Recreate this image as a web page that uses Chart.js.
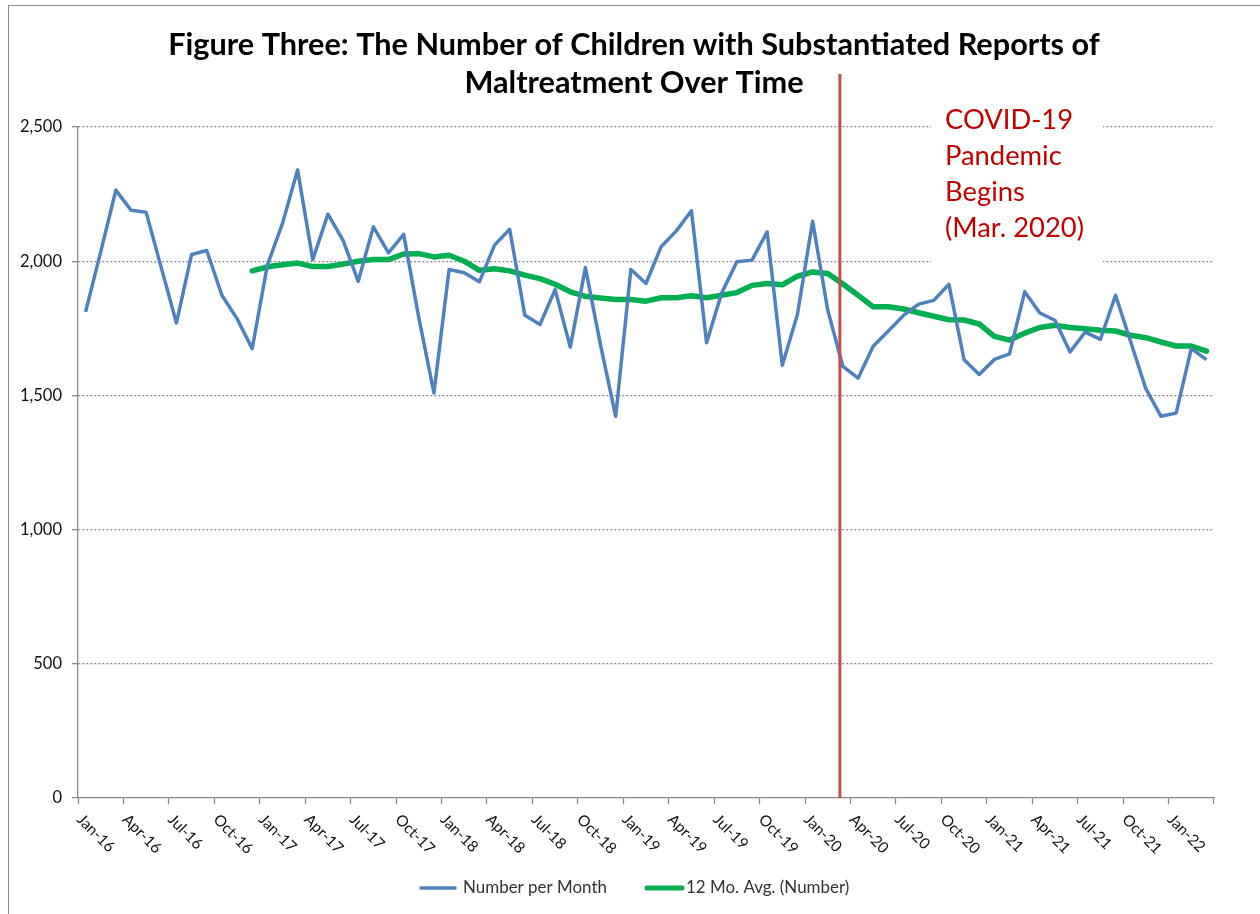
<!DOCTYPE html>
<html>
<head>
<meta charset="utf-8">
<script src="https://cdn.jsdelivr.net/npm/chart.js@4.4.1/dist/chart.umd.min.js"></script>
<style>
html, body { margin: 0; padding: 0; background: #fff; overflow: hidden; }
#cornice { position: absolute; left: 8px; top: 5px; width: 1400px; height: 1000px; border: 1.5px solid #8c8c8c; box-sizing: border-box; }
#grafico { position: absolute; left: 0; top: 0; }
</style>
</head>
<body>
<div id="cornice"></div>
<canvas id="grafico" width="1260" height="914"></canvas>
<script>
// data
const mesi = ['Jan', 'Feb', 'Mar', 'Apr', 'May', 'Jun', 'Jul', 'Aug', 'Sep', 'Oct', 'Nov', 'Dec'];
const anni = ['16', '17', '18', '19', '20', '21', '22'];
const ultimoMese = 'Mar-22';

const perMese = [
  1811, 2035, 2265, 2190, 2182, 1975, 1770, 2025, 2040, 1873, 1786, 1674,
  1985, 2141, 2340, 2006, 2175, 2078, 1925, 2128, 2031, 2100, 1790, 1509,
  1969, 1957, 1923, 2060, 2119, 1799, 1764, 1894, 1680, 1976, 1687, 1422,
  1969, 1917, 2054, 2113, 2188, 1696, 1882, 1998, 2004, 2109, 1612, 1802,
  2149, 1817, 1608, 1564, 1683, 1740, 1798, 1840, 1854, 1914, 1633, 1578,
  1634, 1655, 1886, 1807, 1780, 1662, 1736, 1709, 1873, 1700, 1525, 1422,
  1434, 1674, 1633
];
const media12 = [
  null, null, null, null, null, null, null, null, null, null, null, 1964,
  1979, 1987, 1993, 1980, 1980, 1989, 2000, 2006, 2006, 2027, 2028, 2016,
  2022, 2000, 1966, 1972, 1964, 1948, 1935, 1914, 1886, 1869, 1863, 1857,
  1857, 1851, 1864, 1864, 1871, 1864, 1873, 1883, 1910, 1917, 1912, 1944,
  1960, 1954, 1915, 1873, 1830, 1830, 1822, 1808, 1795, 1782, 1781, 1766,
  1720, 1706, 1732, 1753, 1761, 1753, 1748, 1743, 1740, 1724, 1715, 1699,
  1684, 1684, 1665
];
const yTicks = [0, 500, 1000, 1500, 2000, 2500];

const titolo = ['Figure Three: The Number of Children with Substantiated Reports of', 'Maltreatment Over Time'];
const nota = ['COVID-19', 'Pandemic', 'Begins', '(Mar. 2020)'];
const nomiSerie = ['Number per Month', '12 Mo. Avg. (Number)'];
const mesePandemia = 'Mar-20';

const etichette = [];
for (const a of anni) {
  for (const m of mesi) {
    etichette.push(m + '-' + a);
    if (m + '-' + a === ultimoMese) break;
  }
}

const BLU = '#4F81BD';
const VERDE = '#00B050';
const ROSSO = '#C0504D';
const FONT = 'Lato';

function misura(ctx, testo, larghezza, peso) {
  ctx.font = peso + ' 100px ' + FONT;
  return 100 * larghezza / ctx.measureText(testo).width;
}

// drawing of title, note, x labels, legend
const decorazioni = {
  id: 'decorazioni',
  beforeDatasetsDraw(chart) {
    const ctx = chart.ctx;
    ctx.save();
    ctx.fillStyle = '#fff';
    ctx.fillRect(931, 95, 172, 175);
    ctx.restore();
  },
  afterDraw(chart) {
    const ctx = chart.ctx;
    const x = chart.scales.x;
    ctx.save();

    // title
    let s = misura(ctx, titolo[0], 932, 'bold');
    ctx.font = 'bold ' + s + 'px ' + FONT;
    ctx.fillStyle = '#000';
    ctx.textAlign = 'center';
    ctx.textBaseline = 'middle';
    ctx.fillText(titolo[0], 634, 45);
    ctx.fillText(titolo[1], 634, 83);

    // pandemic line
    const xp = x.getPixelForValue(etichette.indexOf(mesePandemia) - 0.2);
    ctx.strokeStyle = ROSSO;
    ctx.lineWidth = 3;
    ctx.beginPath();
    ctx.moveTo(xp, 74);
    ctx.lineTo(xp, chart.chartArea.bottom);
    ctx.stroke();

    s = misura(ctx, nota[3], 139, 'normal');
    ctx.font = s + 'px ' + FONT;
    ctx.fillStyle = '#C00000';
    ctx.textAlign = 'left';
    nota.forEach((t, i) => ctx.fillText(t, 945, 120 + i * 36));

    // x labels, rotated
    s = misura(ctx, 'Jan-16', 46, 'normal');
    ctx.font = s + 'px ' + FONT;
    ctx.fillStyle = '#111';
    for (let i = 0; i < etichette.length; i += 3) {
      const px = x.getPixelForValue(i);
      ctx.save();
      ctx.translate(px - 6, 817);
      ctx.rotate(Math.PI / 4);
      ctx.fillText(etichette[i], 0, 0);
      ctx.restore();
    }

    // legend
    s = misura(ctx, nomiSerie[0], 144, 'normal');
    ctx.font = s + 'px ' + FONT;
    ctx.fillStyle = '#333';
    ctx.lineCap = 'round';
    ctx.strokeStyle = BLU;
    ctx.lineWidth = 3.5;
    ctx.beginPath(); ctx.moveTo(421, 888); ctx.lineTo(455, 888); ctx.stroke();
    ctx.fillText(nomiSerie[0], 463, 888);
    ctx.strokeStyle = VERDE;
    ctx.lineWidth = 5;
    ctx.beginPath(); ctx.moveTo(647, 888); ctx.lineTo(682, 888); ctx.stroke();
    ctx.fillText(nomiSerie[1], 686, 888);

    ctx.restore();
  }
};

new Chart(document.getElementById('grafico'), {
  type: 'line',
  data: {
    labels: etichette,
    datasets: [{
      label: nomiSerie[0],
      data: perMese,
      borderColor: BLU,
      borderWidth: 3.5,
      pointRadius: 0,
      tension: 0,
      borderJoinStyle: 'round'
    }, {
      label: nomiSerie[1],
      data: media12,
      borderColor: VERDE,
      borderWidth: 5.5,
      pointRadius: 0,
      tension: 0,
      borderJoinStyle: 'round',
      borderCapStyle: 'round'
    }]
  },
  options: {
    responsive: false,
    animation: false,
    layout: { padding: { top: 127, right: 46, left: 0, bottom: 0 } },
    plugins: { legend: { display: false }, title: { display: false }, tooltip: { enabled: false } },
    scales: {
      x: {
        type: 'category',
        offset: true,
        afterFit: s => { s.height = 116; },
        grid: {
          offset: true,
          drawOnChartArea: false,
          tickLength: 6,
          tickColor: c => (c.index === undefined || c.index % 3 === 0) ? '#888' : 'transparent',
          tickWidth: 1.3
        },
        border: { color: '#888', width: 1.3 },
        ticks: { display: false, autoSkip: false }
      },
      y: {
        min: yTicks[0],
        max: yTicks[yTicks.length - 1],
        afterFit: s => { s.width = 78; },
        afterBuildTicks: s => { s.ticks = yTicks.map(v => ({ value: v })); },
        grid: {
          color: c => c.tick && c.tick.value > 0 ? '#8a8a8a' : 'transparent',
          lineWidth: 1.3,
          tickLength: 6,
          tickColor: '#888'
        },
        border: { color: '#888', width: 1.3, dash: [2, 2] },
        ticks: {
          padding: 10,
          color: '#111',
          font: { family: FONT, size: 16.5 },
          callback: v => v.toLocaleString('en-US')
        }
      }
    }
  },
  plugins: [decorazioni]
});
</script>
</body>
</html>
